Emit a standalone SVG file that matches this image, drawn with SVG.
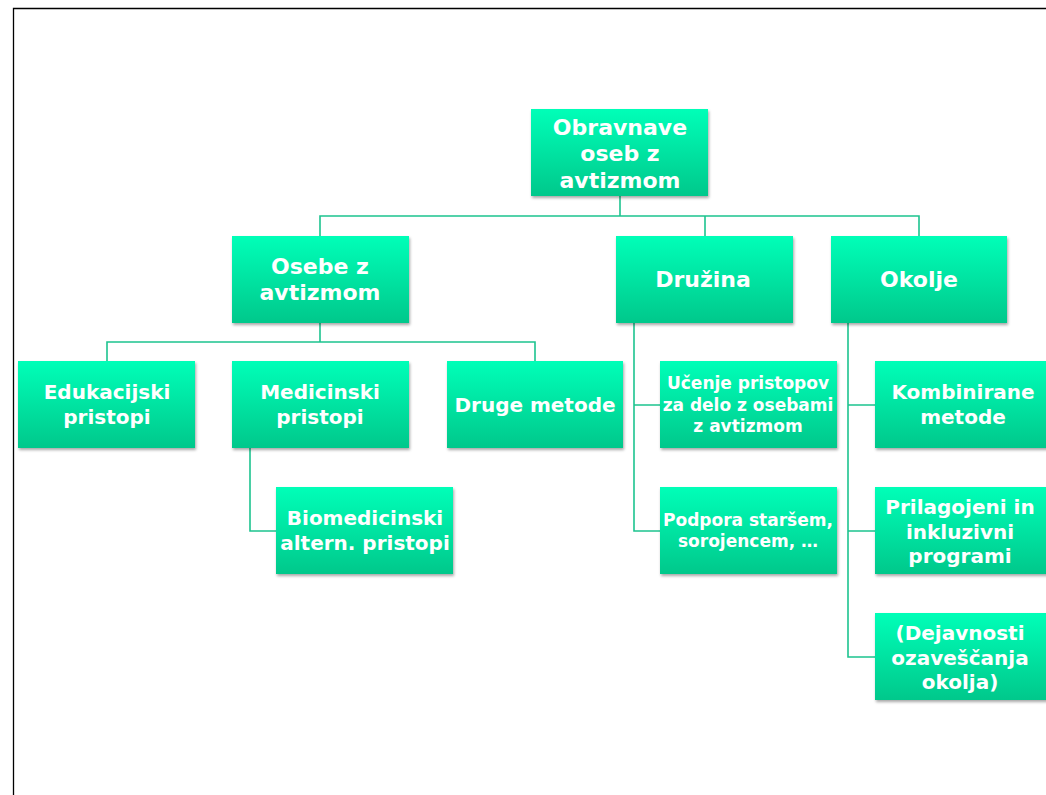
<svg xmlns="http://www.w3.org/2000/svg" width="1046" height="795" viewBox="0 0 1046 795">
<defs>
<linearGradient id="g" x1="0" y1="0" x2="0" y2="1">
<stop offset="0" stop-color="#02FFB8"/>
<stop offset="1" stop-color="#00C88B"/>
</linearGradient>
<filter id="sh" x="-10%" y="-10%" width="125%" height="130%">
<feGaussianBlur in="SourceAlpha" stdDeviation="1.5"/>
<feOffset dx="1" dy="2" result="b"/>
<feComponentTransfer><feFuncA type="linear" slope="0.35"/></feComponentTransfer>
<feMerge><feMergeNode/><feMergeNode in="SourceGraphic"/></feMerge>
</filter>
</defs>
<style>
.box{fill:url(#g);filter:url(#sh)}
.t{fill:#fff;font-family:"DejaVu Sans",Verdana,sans-serif;font-weight:bold;text-anchor:middle;dominant-baseline:central}
.l{font-size:22px}.m{font-size:20px}.s{font-size:17px}
.c{fill:none;stroke:#1DC48F;stroke-width:1.6}
</style>
<rect width="1046" height="795" fill="#fff"/>
<path d="M13.5 795V8.5H1046" fill="none" stroke="#000" stroke-width="1.3"/>
<g id="connectors" class="c">
<path d="M620 196V216M320 236V216H919V236M705 216V236"/>
<path d="M320 323V342M107 361V342H535V361"/>
<path d="M250 448V531H276"/>
<path d="M634 323V531H660M634 405H660"/>
<path d="M848 323V657H875M848 405H875M848 531H875"/>
</g>
<g id="root"><rect class="box" x="531" y="109" width="177" height="87"/>
<text class="t l" x="620" y="127">Obravnave</text><text class="t l" x="620" y="153.5">oseb z</text><text class="t l" x="620" y="180">avtizmom</text></g>
<g id="osebe"><rect class="box" x="232" y="236" width="177" height="87"/>
<text class="t l" x="320" y="266">Osebe z</text><text class="t l" x="320" y="292">avtizmom</text></g>
<g id="druzina"><rect class="box" x="616" y="236" width="177" height="87"/>
<text class="t l" x="703" y="279">Družina</text></g>
<g id="okolje"><rect class="box" x="831" y="236" width="176" height="87"/>
<text class="t l" x="919" y="279">Okolje</text></g>
<g id="edukacijski"><rect class="box" x="18" y="361" width="177" height="87"/>
<text class="t m" x="107" y="392">Edukacijski</text><text class="t m" x="107" y="417">pristopi</text></g>
<g id="medicinski"><rect class="box" x="232" y="361" width="177" height="87"/>
<text class="t m" x="320" y="392">Medicinski</text><text class="t m" x="320" y="417">pristopi</text></g>
<g id="druge"><rect class="box" x="447" y="361" width="176" height="87"/>
<text class="t m" x="535" y="405">Druge metode</text></g>
<g id="biomedicinski"><rect class="box" x="276" y="487" width="177" height="87"/>
<text class="t m" x="365" y="518">Biomedicinski</text><text class="t m" x="365" y="543">altern. pristopi</text></g>
<g id="ucenje"><rect class="box" x="660" y="361" width="177" height="87"/>
<text class="t s" x="748" y="383">Učenje pristopov</text><text class="t s" x="748" y="404.5">za delo z osebami</text><text class="t s" x="748" y="426">z avtizmom</text></g>
<g id="podpora"><rect class="box" x="660" y="487" width="177" height="87"/>
<text class="t s" x="748" y="520">Podpora staršem,</text><text class="t s" x="748" y="541">sorojencem, …</text></g>
<g id="kombinirane"><rect class="box" x="875" y="361" width="177" height="87"/>
<text class="t m" x="963" y="392">Kombinirane</text><text class="t m" x="963" y="417">metode</text></g>
<g id="prilagojeni"><rect class="box" x="875" y="487" width="177" height="87"/>
<text class="t m" x="960" y="507">Prilagojeni in</text><text class="t m" x="960" y="531.5">inkluzivni</text><text class="t m" x="960" y="556">programi</text></g>
<g id="dejavnosti"><rect class="box" x="875" y="613" width="177" height="87"/>
<text class="t m" x="960" y="633">(Dejavnosti</text><text class="t m" x="960" y="657.5">ozaveščanja</text><text class="t m" x="960" y="682">okolja)</text></g>
</svg>
